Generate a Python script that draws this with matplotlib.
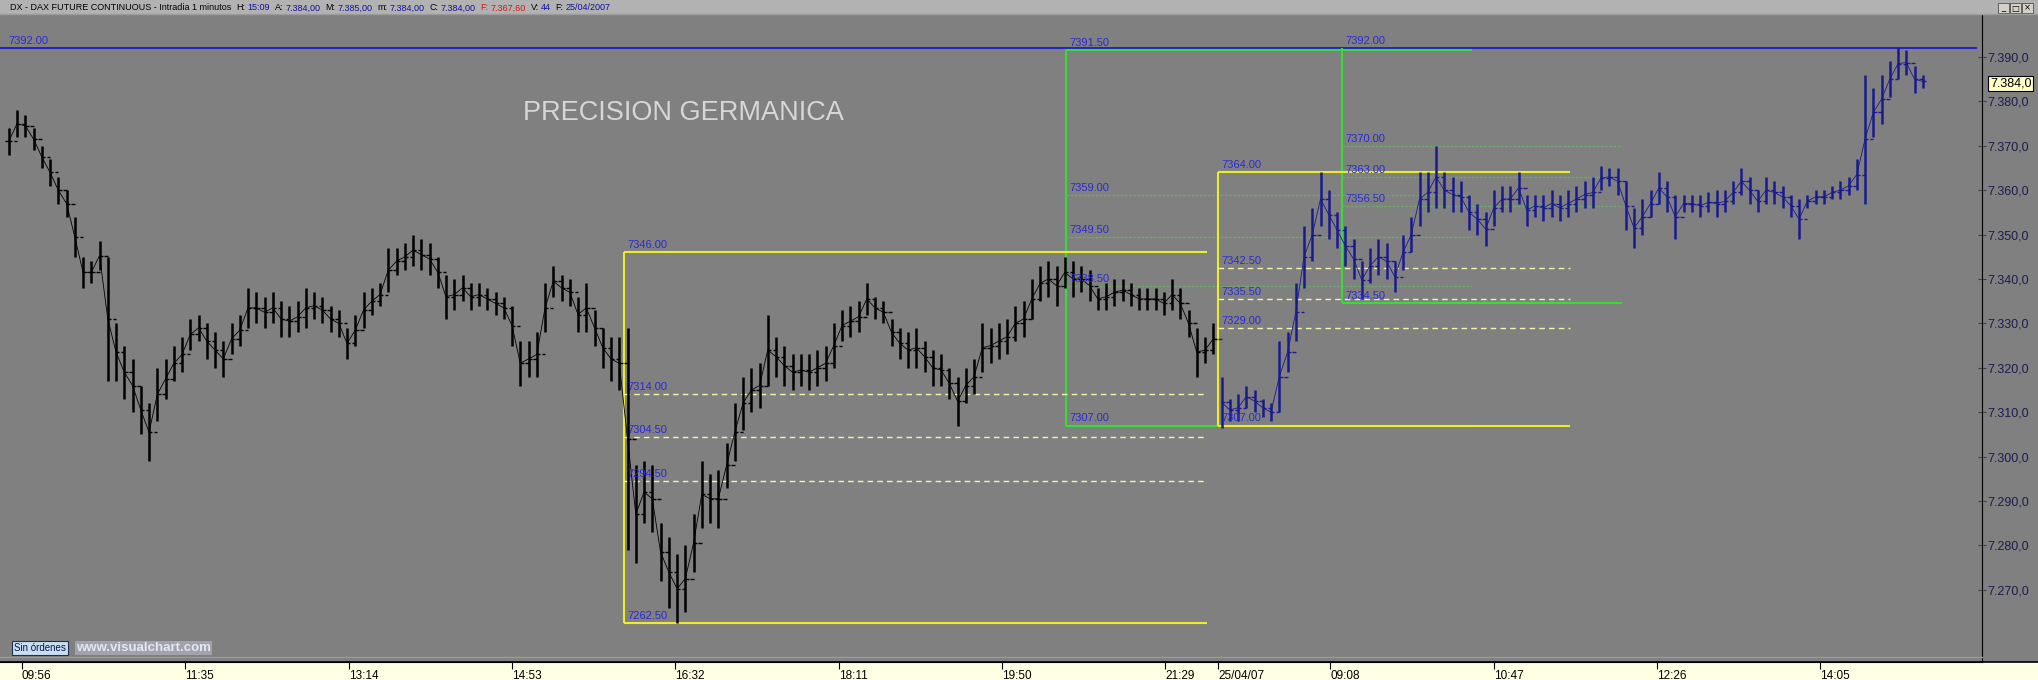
import numpy as np
import matplotlib
matplotlib.use("Agg")
import matplotlib.pyplot as plt
from matplotlib.patches import Rectangle
from matplotlib.lines import Line2D

plt.rcParams['font.family'] = ['Liberation Sans', 'DejaVu Sans']

# --- data: 5-minute high/low ranges --------------------------------------
# day 1 (24/04/07) starts 09:46, day 2 (25/04/07) starts 08:00 at minute 735
day1_low = [7368, 7372, 7372, 7369, 7365, 7361, 7357, 7354, 7345, 7338,
            7339, 7342, 7317, 7317, 7313, 7310, 7305, 7299, 7308, 7313,
            7317, 7319, 7324, 7326, 7322, 7320, 7318, 7323, 7325, 7329,
            7330, 7329, 7330, 7327, 7327, 7328, 7329, 7331, 7330, 7328,
            7327, 7322, 7325, 7329, 7332, 7334, 7337, 7341, 7342, 7343,
            7342, 7341, 7338, 7331, 7333, 7335, 7333, 7334, 7333, 7332,
            7331, 7325, 7316, 7318, 7318, 7328, 7336, 7335, 7334, 7328,
            7328, 7325, 7320, 7317, 7315, 7279, 7276, 7285, 7283, 7272,
            7266, 7262.5, 7265, 7274, 7284, 7285, 7284, 7293, 7299, 7306,
            7310, 7311, 7316, 7318, 7316, 7315, 7316, 7315, 7316, 7317,
            7320, 7326, 7327, 7328, 7332, 7331, 7330, 7325, 7322, 7320,
            7320, 7319, 7316, 7316, 7313, 7307, 7312, 7314, 7319, 7321,
            7322, 7323, 7326, 7327, 7331, 7335, 7336, 7334, 7338, 7336,
            7337, 7335, 7333, 7333, 7334, 7335, 7334, 7333, 7333, 7333,
            7332, 7333, 7331, 7327, 7318, 7321, 7323]
day1_high = [7374, 7378, 7377, 7374, 7370, 7367, 7363, 7360, 7354, 7345,
             7344, 7348.5, 7345, 7330, 7325, 7322, 7316, 7312, 7320, 7322,
             7325, 7327, 7331, 7332, 7330, 7328, 7326, 7330, 7332, 7338,
             7337, 7336, 7337, 7335, 7334, 7335, 7338, 7337, 7336, 7334,
             7333, 7329, 7332, 7337, 7338, 7339, 7347, 7347, 7348, 7350,
             7349, 7348, 7345, 7341, 7340, 7341, 7339, 7339, 7338, 7337,
             7336, 7334, 7326, 7326, 7328, 7339, 7343, 7341, 7340, 7336,
             7339, 7333, 7329, 7327, 7327, 7329, 7298, 7299, 7298, 7285,
             7282, 7278, 7280, 7287, 7299, 7296, 7297, 7303, 7312, 7318,
             7320, 7321, 7332, 7327, 7325, 7323, 7323, 7323, 7324, 7325,
             7330, 7333, 7334, 7335, 7339, 7336, 7335, 7331, 7329, 7328,
             7329, 7326, 7324, 7323, 7320, 7318, 7320, 7322, 7330, 7329,
             7330, 7331, 7334, 7335, 7340, 7343, 7344, 7343, 7345, 7344,
             7343, 7342, 7338, 7339, 7340, 7340, 7339, 7338, 7338, 7338,
             7337, 7340, 7338, 7333, 7329, 7327, 7330]
day2_low = [7306.5, 7308, 7308, 7311, 7310, 7309, 7308, 7310, 7319, 7326,
            7338, 7344, 7352, 7349, 7347, 7343, 7340, 7335.5, 7339, 7341,
            7340, 7337, 7342, 7346, 7352, 7355, 7356, 7356, 7355, 7355,
            7351, 7350, 7347.5, 7352, 7355, 7355, 7357, 7352, 7354, 7353,
            7354, 7353, 7354, 7355, 7356, 7356, 7360, 7361, 7359, 7351,
            7347, 7350, 7354, 7357, 7355, 7349, 7355, 7355, 7354, 7355,
            7354, 7355, 7357, 7359, 7357, 7355, 7357, 7357, 7356, 7354,
            7349, 7356, 7357, 7357, 7358, 7358, 7359, 7360, 7357, 7372,
            7375, 7381, 7385, 7386, 7382, 7383]
day2_high = [7318, 7313, 7314, 7316, 7315, 7313, 7312, 7326, 7328, 7339,
             7352, 7356, 7364, 7360, 7355, 7352, 7349, 7344, 7347, 7349,
             7348, 7344, 7350, 7354, 7364, 7364, 7370, 7364, 7363, 7362,
             7359, 7357, 7355, 7360, 7361, 7361, 7364, 7359, 7359, 7359,
             7360, 7359, 7360, 7361, 7362, 7363, 7365.5, 7365, 7365, 7362,
             7356, 7358, 7360, 7364, 7362, 7359, 7359, 7359, 7359, 7359.5,
             7360, 7360, 7362, 7365, 7363, 7360, 7363, 7362, 7361, 7359,
             7358, 7359, 7360, 7360, 7361, 7362, 7363, 7367, 7386, 7383,
             7386, 7389, 7392, 7391.5, 7388, 7386]
bar_minutes = 5
last_price = 7384.0

# time axis labels and their minute index from 09:46 of day 1
tick_labels = ['09:56', '11:35', '13:14', '14:53', '16:32', '18:11', '19:50',
               '21:29', '25/04/07', '09:08', '10:47', '12:26', '14:05']
tick_minutes = [10, 109, 208, 307, 406, 505, 604, 703, 735, 803, 902, 1001, 1100]
price_ticks = [7270, 7280, 7290, 7300, 7310, 7320, 7330, 7340, 7350, 7360,
               7370, 7380, 7390]

# drawn levels: (start minute, end minute), levels
resistance = 7392.0
box1_span = (375, 728)
box1_levels = [7262.5, 7294.5, 7304.5, 7314.0, 7346.0]
green1_span = (643, 889)
green1_levels = [7307.0, 7338.5, 7349.5, 7359.0, 7391.5]
box2_span = (735, 948)
box2_levels = [7307.0, 7329.0, 7335.5, 7342.5, 7364.0]
green2_span = (810, 980)
green2_levels = [7334.5, 7356.5, 7363.0, 7370.0, 7392.0]

W, H = 2038, 680
BG = '#808080'
YEL = '#ecec2a'
GRN = '#35dd35'
LBL = '#2a2ad6'


def fx(px):
    return px / W


def fy(py):
    return 1 - py / H


def es_num(v):
    # 7384.0 -> 7.384,0
    return f"{v:,.1f}".replace(',', ' ').replace('.', ',').replace(' ', '.')


fig = plt.figure(figsize=(W / 100, H / 100), dpi=100, facecolor=BG)
ax = fig.add_axes([0, fy(662), fx(1982), (662 - 14) / H])
ax.set_facecolor(BG)
ax.set_xlim(-3.33, 1197.9)
ax.set_ylim(7253.74, 7399.68)

# price bars (OHLC-like: open tick at previous mid, close tick at own mid)
lows = np.array(day1_low + day2_low, dtype=float)
highs = np.array(day1_high + day2_high, dtype=float)
xs = np.arange(len(lows)) * bar_minutes + 2
mids = (lows + highs) / 2
opens = np.r_[mids[0], mids[:-1]]
n1 = len(day1_low)
for sl, col in [(slice(0, n1), '#000000'), (slice(n1, None), '#1a1a8e')]:
    ax.vlines(xs[sl], lows[sl], highs[sl], color=col, lw=1.8, zorder=5)
    ax.hlines(opens[sl], xs[sl] - 2.0, xs[sl], color=col, lw=1.0, zorder=5)
    ax.hlines(mids[sl], xs[sl], xs[sl] + 2.0, color=col, lw=1.0, zorder=5)
    ax.plot(xs[sl], mids[sl], color=col, lw=0.6, zorder=5)

# resistance line
ax.axhline(resistance, xmin=0, xmax=0.997, color='#1a1ad0', lw=1.3, zorder=3)
ax.annotate(f"{resistance:.2f}", (0, resistance), xytext=(2, 1.5),
            textcoords='offset points', color=LBL, fontsize=8, va='bottom')


def level_set(span, levels, col, mid_style, mid_col, draw_top=True):
    t0, t1 = span
    ax.vlines(t0, levels[0], levels[-1], color=col, lw=1.5, zorder=4)
    for j, lv in enumerate(levels):
        solid = j in (0, len(levels) - 1)
        if j == len(levels) - 1 and not draw_top:
            pass
        elif solid:
            ax.hlines(lv, t0, t1, color=col, lw=1.5, zorder=4)
        else:
            ax.hlines(lv, t0, t1, color=mid_col, lw=1.0, linestyles=mid_style, zorder=4)
        ax.annotate(f"{lv:.2f}", (t0, lv), xytext=(2.5, 1.5),
                    textcoords='offset points', color=LBL, fontsize=8,
                    va='bottom', zorder=6)


level_set(green1_span, green1_levels, GRN, (0, (2, 1)), '#70a870')
level_set(green2_span, green2_levels, GRN, (0, (2, 1)), '#70a870', draw_top=False)
level_set(box1_span, box1_levels, YEL, (0, (4, 3)), '#f4f4b0')
level_set(box2_span, box2_levels, YEL, (0, (4, 3)), '#f4f4b0')

# axes styling
for s in ['top', 'left']:
    ax.spines[s].set_visible(False)
ax.spines['right'].set_color('black')
ax.spines['bottom'].set_color('black')
ax.yaxis.tick_right()
ax.set_yticks(price_ticks)
ax.set_yticklabels([es_num(v) for v in price_ticks])
ax.tick_params(axis='y', direction='inout', length=6, color='#404040',
               labelcolor='#1c1c50', labelsize=9, pad=1)
ax.set_xticks(tick_minutes)
ax.set_xticklabels(tick_labels, ha='left')
ax.tick_params(axis='x', direction='out', length=5, color='black',
               labelcolor='black', labelsize=8.5, pad=1)

# current price marker
ax.text(1.004, last_price, es_num(last_price),
        transform=ax.get_yaxis_transform(), fontsize=9, color='black',
        va='center', ha='left', zorder=10,
        bbox=dict(boxstyle='square,pad=0.15', fc='#ffffc4', ec='black', lw=0.8))

# bottom band, header, decorations
fig.add_artist(Rectangle((0, 0), 1, 18 / H, transform=fig.transFigure,
                         fc='#ffffe4', ec='none', zorder=-5))
fig.add_artist(Line2D([0, 1], [fy(662), fy(662)], transform=fig.transFigure,
                      color='black', lw=1.2))
fig.add_artist(Line2D([0, fx(1982)], [fy(657), fy(657)], transform=fig.transFigure,
                      color='#9a9a9a', lw=1))
fig.add_artist(Rectangle((0, fy(14)), 1, 14 / H, transform=fig.transFigure,
                         fc='#b2b2b2', ec='none'))
fig.add_artist(Line2D([0, 1], [fy(14), fy(14)], transform=fig.transFigure,
                      color='#9c9c9c', lw=1))

fig.text(fx(523), fy(120), 'PRECISION GERMANICA', color='#d6d6d6',
         fontsize=19.5, va='baseline')

header = [('DX - DAX FUTURE CONTINUOUS - Intradia 1 minutos', 'black'),
          ('H:', 'black'), ('15:09', '#1010a0'),
          ('A:', 'black'), ('7.384,00', '#1010a0'),
          ('M:', 'black'), ('7.385,00', '#1010a0'),
          ('m:', 'black'), ('7.384,00', '#1010a0'),
          ('C:', 'black'), ('7.384,00', '#1010a0'),
          ('F:', '#e01010'), ('7.367,60', '#e01010'),
          ('V:', 'black'), ('44', '#1010a0'),
          ('F:', 'black'), ('25/04/2007', '#1010a0')]
renderer = fig.canvas.get_renderer()
x = 10
for s, c in header:
    t = fig.text(fx(x), fy(10.5), s, color=c, fontsize=6.5, va='baseline',
                 family=['Liberation Sans Narrow', 'Liberation Sans'])
    bb = t.get_window_extent(renderer)
    x = bb.x1 + (2 if s.endswith(':') else 5)

for j, g in enumerate(['_', '\u25a1', '\u00d7']):
    x0 = 1998 + j * 12
    fig.add_artist(Rectangle((fx(x0), fy(13)), fx(11), 10 / H, transform=fig.transFigure,
                             fc='#d4d0c8', ec='#505050', lw=0.6))
    fig.text(fx(x0 + 5.5), fy(8), g, fontsize=6, ha='center', va='center',
             color='black', family=['DejaVu Sans'])

fig.text(fx(40), fy(648), 'Sin órdenes', fontsize=7, color='#101040',
         ha='center', va='center',
         bbox=dict(boxstyle='square,pad=0.25', fc='#c6dff2', ec='#203050', lw=0.8))
fig.text(fx(76), fy(648), 'www.visualchart.com', fontsize=9.5, weight='bold',
         color='#e2e7f4', ha='left', va='center',
         bbox=dict(boxstyle='square,pad=0.1', fc='#a2a2ac', ec='none'))

fig.savefig('out.png', dpi=100, facecolor=BG)
